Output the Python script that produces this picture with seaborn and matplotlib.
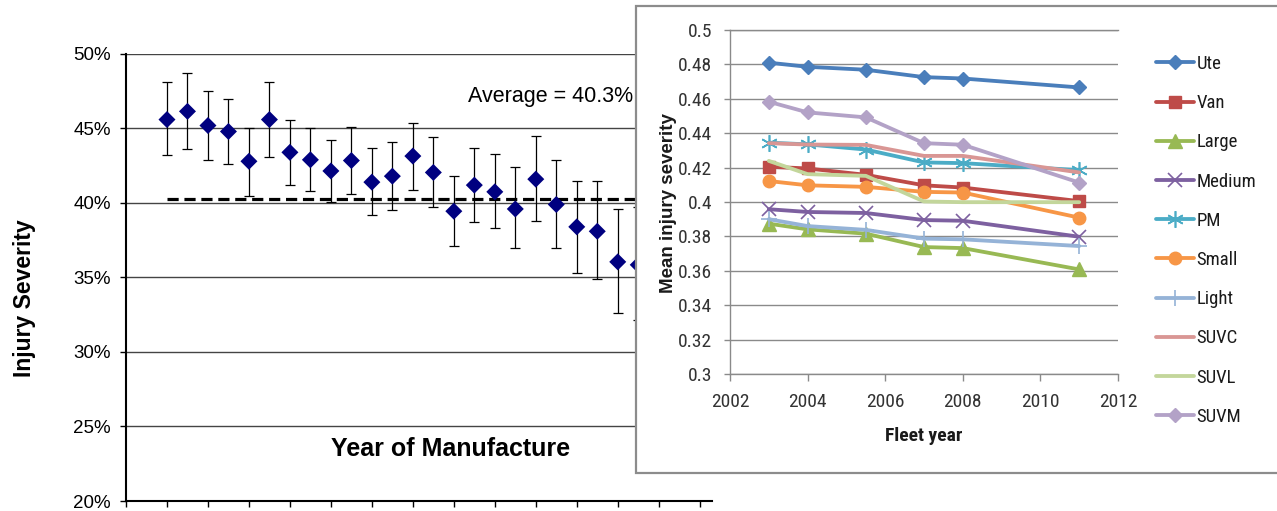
import numpy as np
import matplotlib
matplotlib.use("Agg")
import matplotlib.pyplot as plt
import seaborn as sns
from matplotlib import font_manager as fm
from matplotlib.patches import Rectangle

# ---------------- data: left chart (year of manufacture, index order) ----------------
manuf_index = list(range(24))
severity = [45.6, 46.15, 45.2, 44.8, 42.8, 45.6, 43.4, 42.9, 42.15, 42.85, 41.4, 41.8,
            43.15, 42.05, 39.45, 41.2, 40.75, 39.6, 41.6, 39.9, 38.4, 38.1, 36.05, 35.85]
sev_upper = [48.1, 48.7, 47.5, 47.0, 45.05, 48.1, 45.6, 45.0, 44.25, 45.1, 43.7, 44.1,
             45.4, 44.4, 41.8, 43.7, 43.3, 42.4, 44.5, 42.9, 41.5, 41.45, 39.6, 39.75]
sev_lower = [43.2, 43.6, 42.9, 42.6, 40.5, 43.1, 41.2, 40.8, 40.1, 40.6, 39.2, 39.5,
             40.9, 39.7, 37.1, 38.75, 38.3, 36.95, 38.8, 36.95, 35.3, 34.9, 32.6, 32.15]
average = 40.3
left_yticks = [20, 25, 30, 35, 40, 45, 50]

# ---------------- data: inset chart (fleet year) ----------------
fleet_years = [2003, 2004, 2005.5, 2007, 2008, 2011]
ute    = [0.481, 0.4786, 0.4769, 0.4726, 0.4718, 0.4666]
van    = [0.4205, 0.4195, 0.4158, 0.4097, 0.4084, 0.4005]
large  = [0.3874, 0.3841, 0.3816, 0.3738, 0.3732, 0.3608]
medium = [0.3958, 0.3942, 0.3936, 0.3895, 0.3891, 0.3798]
pm     = [0.4345, 0.4335, 0.4305, 0.4230, 0.4226, 0.4185]
small  = [0.4122, 0.4097, 0.4088, 0.4059, 0.4055, 0.3909]
light  = [0.3900, 0.3860, 0.3838, 0.3787, 0.3783, 0.3744]
suvc   = [0.4342, 0.4334, 0.4332, 0.4268, 0.4268, 0.4172]
suvl   = [0.4239, 0.4162, 0.4152, 0.4003, 0.3999, 0.3999]
suvm   = [0.4583, 0.4521, 0.4492, 0.4342, 0.4333, 0.4113]
series_names = ["Ute", "Van", "Large", "Medium", "PM", "Small", "Light", "SUVC", "SUVL", "SUVM"]
series_vals = [ute, van, large, medium, pm, small, light, suvc, suvl, suvm]
inset_xticks = [2002, 2004, 2006, 2008, 2010, 2012]
inset_yticks = [0.3, 0.32, 0.34, 0.36, 0.38, 0.4, 0.42, 0.44, 0.46, 0.48, 0.5]

# styles
styles = {
    "Ute":    dict(color="#4A7EBB", marker="D", ms=7.6),
    "Van":    dict(color="#BE4B48", marker="s", ms=8.8),
    "Large":  dict(color="#98B954", marker="^", ms=10),
    "Medium": dict(color="#7D60A0", marker="x", ms=10, mew=1.2),
    "PM":     dict(color="#4BACC6", marker=(6, 2, 0), ms=12, mew=1.2),
    "Small":  dict(color="#F79646", marker="o", ms=9),
    "Light":  dict(color="#95B3D7", marker="+", ms=12, mew=1.2),
    "SUVC":   dict(color="#D99694"),
    "SUVL":   dict(color="#C3D69B"),
    "SUVM":   dict(color="#B3A2C7", marker="D", ms=7.6),
}

sns.set_theme(style="white")
plt.rcParams["font.family"] = ["Liberation Sans", "DejaVu Sans"]
for k in ["text.color", "axes.labelcolor", "xtick.color", "ytick.color"]:
    plt.rcParams[k] = "black"

# pick a condensed sans font for the inset if one is installed
narrow_prop = None
_pref = ["Liberation Sans Narrow", "Roboto Condensed", "Open Sans Condensed",
         "Noto Sans Condensed", "DejaVu Sans Condensed", "Arial Narrow"]
_by_name = {}
for f in fm.fontManager.ttflist:
    _by_name.setdefault(f.name, []).append(f)
for n in _pref:
    if n in _by_name:
        narrow_prop = dict(family=n)
        break
if narrow_prop is None:
    for f in fm.fontManager.ttflist:
        p = f.fname.lower()
        if ("condensed" in p or "narrow" in p) and "bold" not in p and "italic" not in p \
                and "oblique" not in p and "mono" not in p and "serif" not in p.replace("sans", ""):
            narrow_prop = dict(fname=f.fname)
            break


def nfont(size, bold=False):
    if narrow_prop is None:
        return fm.FontProperties(family="Liberation Sans", size=size * 0.9,
                                 weight="bold" if bold else "normal")
    if "family" in narrow_prop:
        return fm.FontProperties(family=narrow_prop["family"], size=size,
                                 weight="bold" if bold else "normal")
    return fm.FontProperties(fname=narrow_prop["fname"], size=size)


W, H = 1277, 511
fig = plt.figure(figsize=(W / 100, H / 100), dpi=100)
fig.patch.set_facecolor("white")


def fx(px):
    return px / W


def fy(py):
    return (H - py) / H


# ---------------- left chart ----------------
ax = fig.add_axes([fx(126), fy(501), (712 - 126) / W, (501 - 54) / H])
ax.set_zorder(0)
sev = np.array(severity)
yerr = [sev - np.array(sev_lower), np.array(sev_upper) - sev]
ax.errorbar(manuf_index, sev, yerr=yerr, fmt="none", ecolor="black",
            elinewidth=0.9, capsize=3.6, capthick=0.9, zorder=2)
sns.scatterplot(x=manuf_index, y=severity, marker="D", s=75, color="#000080",
                edgecolor="none", ax=ax, zorder=3, legend=False)
ax.set_xlim(-2, 26.6)
ax.hlines(average, manuf_index[0], 26.6, colors="black", lw=2.3,
          linestyles=(0, (3.5, 1.8)), zorder=2.5)
ax.set_ylim(20, 50)
ax.set_xticks(np.arange(-2, 27, 2))
ax.set_xticklabels([])
ax.set_yticks(left_yticks)
ax.set_yticklabels([f"{v}%" for v in left_yticks], fontsize=13.5)
ax.yaxis.grid(True, color="#444444", lw=1.0)
ax.set_axisbelow(True)
for s in ["top", "right"]:
    ax.spines[s].set_visible(False)
for s in ["left", "bottom"]:
    ax.spines[s].set_color("black")
    ax.spines[s].set_linewidth(1.5)
ax.tick_params(axis="both", direction="out", length=4, width=1, color="black",
               pad=7, left=True, bottom=True)
ax.set_xlabel("")
ax.set_ylabel("")
ax.text(14.68, 46.78, "Average = 40.3%", fontsize=15.5, va="baseline", ha="left", zorder=4)
ax.text(13.85, 23.02, "Year of Manufacture", fontsize=18, fontweight="bold",
        va="baseline", ha="center", zorder=4)
fig.text(fx(25), fy(298), "Injury Severity", rotation=90, fontsize=16.5,
         fontweight="bold", ha="center", va="center")

# ---------------- inset chart ----------------
rect = Rectangle((fx(636), fy(473)), 1 - fx(636) + 0.01, fy(6) - fy(473),
                 transform=fig.transFigure, facecolor="white", edgecolor="#8C8C8C",
                 lw=1.6, zorder=1)
fig.add_artist(rect)

axi = fig.add_axes([fx(730), fy(374), 388 / W, 344 / H])
axi.set_zorder(2)
axi.patch.set_alpha(0)
for name, vals in zip(series_names, series_vals):
    st = dict(styles[name])
    color = st.pop("color")
    kw = {}
    if "marker" in st:
        kw = dict(marker=st["marker"], markersize=st["ms"], markeredgecolor=color,
                  markerfacecolor=color, markeredgewidth=st.get("mew", 1.0))
    sns.lineplot(x=fleet_years, y=vals, color=color, lw=2.75, label=name, ax=axi, **kw)

axi.set_xlim(2002, 2012)
axi.set_ylim(0.3, 0.5)
axi.set_xticks(inset_xticks)
axi.set_xticklabels([str(v) for v in inset_xticks])
axi.set_yticks(inset_yticks)
axi.set_yticklabels([f"{v:g}" for v in inset_yticks])
axi.yaxis.grid(True, color="#8A8A8A", lw=1.0)
axi.set_axisbelow(True)
axi.spines["right"].set_visible(False)
for s in ["left", "bottom", "top"]:
    axi.spines[s].set_color("#8A8A8A")
    axi.spines[s].set_linewidth(1.0)
axi.tick_params(axis="x", direction="out", length=5, width=1, color="#8A8A8A",
                pad=9, labelcolor="#333333", bottom=True)
axi.tick_params(axis="y", direction="out", length=4, width=1, color="#8A8A8A",
                pad=9, labelcolor="#333333", left=True)
for lab in axi.get_xticklabels() + axi.get_yticklabels():
    lab.set_fontproperties(nfont(14))
axi.set_xlabel("")
axi.set_ylabel("")

leg = axi.legend(loc="upper left", bbox_to_anchor=(fx(1156), fy(55)),
                 bbox_transform=fig.transFigure, frameon=False,
                 prop=nfont(13.5), handlelength=2.0,
                 handletextpad=0.15, labelspacing=1.13, borderpad=0, borderaxespad=0)
for t in leg.get_texts():
    t.set_color("#1a1a1a")

fig.text(fx(924), fy(436), "Fleet year", fontproperties=nfont(14, bold=True),
         ha="center", va="center", color="#1a1a1a")
fig.text(fx(669), fy(203), "Mean injury severity", rotation=90, fontsize=13.5,
         fontweight="bold", ha="center", va="center", color="#1a1a1a")

fig.savefig("out.png", dpi=100)
